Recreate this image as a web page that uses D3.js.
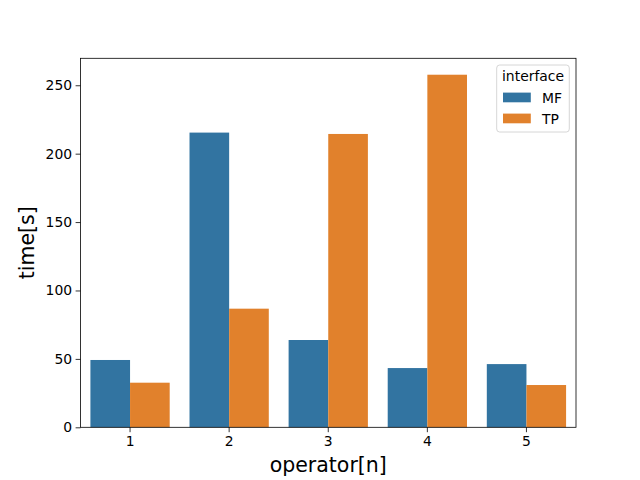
<!DOCTYPE html>
<html>
<head>
<meta charset="utf-8">
<script src="https://cdn.jsdelivr.net/npm/d3@7"></script>
<style>
  html, body { margin: 0; padding: 0; background: #fff; }
  svg { display: block; font-family: "DejaVu Sans", sans-serif; }
</style>
</head>
<body>
<svg id="chart" width="640" height="480"></svg>
<script>
const categories = ["1", "2", "3", "4", "5"];
const seriesNames = ["MF", "TP"];
const mfValues = [49.2, 215.4, 63.8, 43.3, 46.2];
const tpValues = [32.6, 86.7, 214.4, 257.7, 30.9];
const yTicks = [0, 50, 100, 150, 200, 250];
const colors = ["#3274a1", "#e1812c"];

const seriesValues = [mfValues, tpValues];
const data = [];
categories.forEach((c, i) => {
  seriesNames.forEach((s, j) => data.push({ cat: c, series: s, value: seriesValues[j][i] }));
});

const svg = d3.select("#chart");
const L = 80.5, R = 576, T = 58.3, B = 427.3;

const x = d3.scaleBand().domain(categories).range([L, R]).paddingInner(0).paddingOuter(0);
const xInner = d3.scaleBand().domain(seriesNames).range([x.bandwidth() * 0.1, x.bandwidth() * 0.9]);
const y = d3.scaleLinear().domain([0, 269.7]).range([B, T]);

// bars
svg.append("g").selectAll("rect").data(data).join("rect")
  .attr("x", d => x(d.cat) + xInner(d.series))
  .attr("width", xInner.bandwidth())
  .attr("y", d => y(d.value))
  .attr("height", d => y(0) - y(d.value))
  .attr("fill", d => colors[seriesNames.indexOf(d.series)]);

// axes
const fs = 13.9;
const xAxis = svg.append("g").attr("transform", `translate(0,${B})`)
  .call(d3.axisBottom(x).tickSize(4.9).tickPadding(3.5));
const yAxis = svg.append("g").attr("transform", `translate(${L},0)`)
  .call(d3.axisLeft(y).tickValues(yTicks).tickSize(4.9).tickPadding(3.5));
[xAxis, yAxis].forEach(a => {
  a.select(".domain").remove();
  a.selectAll(".tick line").attr("stroke", "#000").attr("stroke-width", 0.8);
  a.selectAll(".tick text").attr("font-size", fs).attr("font-family", "DejaVu Sans").attr("fill", "#000");
});

// frame
svg.append("rect").attr("x", L).attr("y", T).attr("width", R - L).attr("height", B - T)
  .attr("fill", "none").attr("stroke", "#000").attr("stroke-width", 0.8);

// axis labels
svg.append("text").attr("x", (L + R) / 2).attr("y", 472)
  .attr("text-anchor", "middle").attr("font-size", 20.5).text("operator[n]");
svg.append("text").attr("transform", `translate(34,${(T + B) / 2}) rotate(-90)`)
  .attr("text-anchor", "middle").attr("font-size", 20.5).text("time[s]");

// legend
const lg = svg.append("g");
lg.append("rect").attr("x", 496.7).attr("y", 65).attr("width", 72.6).attr("height", 67)
  .attr("rx", 3).attr("fill", "#fff").attr("fill-opacity", 0.8)
  .attr("stroke", "#cccccc").attr("stroke-width", 0.8);
lg.append("text").attr("x", 533).attr("y", 81).attr("text-anchor", "middle")
  .attr("font-size", fs).text("interface");
seriesNames.forEach((s, i) => {
  const cy = 97.5 + i * 21;
  lg.append("rect").attr("x", 503).attr("y", cy - 4.9).attr("width", 27.8).attr("height", 9.7)
    .attr("fill", colors[i]);
  lg.append("text").attr("x", 542).attr("y", cy + 5).attr("font-size", fs).text(s);
});
</script>
</body>
</html>
